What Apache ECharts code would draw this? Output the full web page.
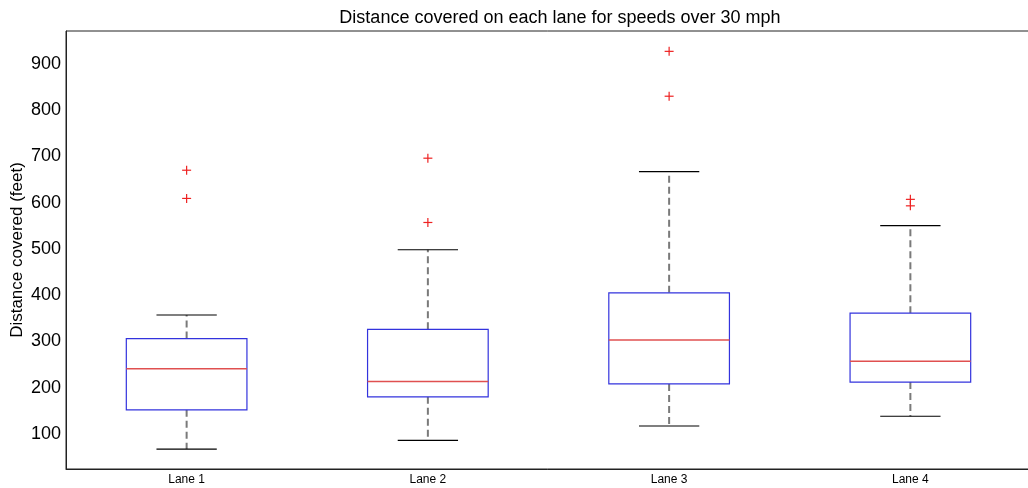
<!DOCTYPE html>
<html>
<head>
<meta charset="utf-8">
<script src="https://cdn.jsdelivr.net/npm/echarts@6/dist/echarts.min.js"></script>
<style>
  html, body { margin: 0; padding: 0; background: #fff; }
  #main { width: 1028px; height: 488px; }
</style>
</head>
<body>
<div id="main"></div>
<script>
// lanes on the x axis
var lanes = ['Lane 1', 'Lane 2', 'Lane 3', 'Lane 4'];
// box stats per lane: [low whisker, Q1, median, Q3, high whisker]
var boxStats = [
    [67, 152, 241, 306, 357],
    [86, 180, 213, 326, 498],
    [117, 208, 303, 405, 667],
    [138, 212, 257, 361, 550]
];
// outliers as [lane index, value]
var outliers = [
    [0, 670], [0, 609],
    [1, 696], [1, 557],
    [2, 927], [2, 830],
    [3, 607], [3, 593]
];
var yTicks = [100, 200, 300, 400, 500, 600, 700, 800, 900];

var chart = echarts.init(document.getElementById('main'));

var boxData = boxStats.map(function (s, i) {
    return [i].concat(s);
});

function renderBox(params, api) {
    var idx = api.value(0);
    var band = api.size([1, 0])[0];
    var half = band * 0.25;
    var cap = band * 0.125;
    var pLow = api.coord([idx, api.value(1)]);
    var pQ1 = api.coord([idx, api.value(2)]);
    var pMed = api.coord([idx, api.value(3)]);
    var pQ3 = api.coord([idx, api.value(4)]);
    var pHigh = api.coord([idx, api.value(5)]);
    var cx = pMed[0];
    var dash = { stroke: '#7a7a7a', lineWidth: 2, lineDash: [7, 4] };
    var capStyle = { stroke: '#000', lineWidth: 1.2 };
    return {
        type: 'group',
        children: [
            { type: 'line', shape: { x1: cx, y1: pQ3[1], x2: cx, y2: pHigh[1] }, style: dash },
            { type: 'line', shape: { x1: cx, y1: pQ1[1], x2: cx, y2: pLow[1] }, style: dash },
            { type: 'line', shape: { x1: cx - cap, y1: pHigh[1], x2: cx + cap, y2: pHigh[1] }, style: capStyle },
            { type: 'line', shape: { x1: cx - cap, y1: pLow[1], x2: cx + cap, y2: pLow[1] }, style: capStyle },
            { type: 'rect', shape: { x: cx - half, y: pQ3[1], width: half * 2, height: pQ1[1] - pQ3[1] },
              style: { fill: '#fff', stroke: '#3333dd', lineWidth: 1.2 } },
            { type: 'line', shape: { x1: cx - half, y1: pMed[1], x2: cx + half, y2: pMed[1] },
              style: { stroke: '#e05050', lineWidth: 1.5 } }
        ]
    };
}

function renderPlus(params, api) {
    var p = api.coord([api.value(0), api.value(1)]);
    var r = 4.5;
    var st = { stroke: '#ee2222', lineWidth: 1.2 };
    return {
        type: 'group',
        children: [
            { type: 'line', shape: { x1: p[0] - r, y1: p[1], x2: p[0] + r, y2: p[1] }, style: st },
            { type: 'line', shape: { x1: p[0], y1: p[1] - r, x2: p[0], y2: p[1] + r }, style: st }
        ]
    };
}

var option = {
    animation: false,
    backgroundColor: '#fff',
    title: {
        text: 'Distance covered on each lane for speeds over 30 mph',
        left: 555,
        top: 4,
        textAlign: 'center',
        textStyle: { fontFamily: 'Liberation Sans', fontSize: 18, fontWeight: 'normal', color: '#000' }
    },
    grid: {
        left: 66, top: 31, width: 965, height: 438,
        outerBoundsMode: 'none',
        show: true, borderColor: '#222', borderWidth: 1
    },
    xAxis: {
        type: 'category',
        data: lanes,
        boundaryGap: true,
        axisLine: { lineStyle: { color: '#222' } },
        axisTick: { show: false },
        axisLabel: { fontFamily: 'Liberation Sans', fontSize: 12, color: '#000', margin: 5 }
    },
    yAxis: [{
        type: 'value',
        min: 24,
        max: 971,
        name: 'Distance covered (feet)',
        nameLocation: 'middle',
        nameRotate: 90,
        nameGap: 40,
        nameMoveOverlap: false,
        nameTextStyle: { fontFamily: 'Liberation Sans', fontSize: 17, color: '#000' },
        splitLine: { show: false },
        axisLine: { show: true, lineStyle: { color: '#222' } },
        axisTick: { inside: true, length: 9, customValues: yTicks, lineStyle: { color: '#222' } },
        axisLabel: { customValues: yTicks, fontFamily: 'Liberation Sans', fontSize: 18, color: '#000', margin: 5 }
    }, {
        type: 'value',
        position: 'right',
        min: 24,
        max: 971,
        splitLine: { show: false },
        axisLine: { show: true, lineStyle: { color: '#222' } },
        axisTick: { inside: true, length: 9, customValues: yTicks, lineStyle: { color: '#222' } },
        axisLabel: { show: false }
    }],
    series: [{
        type: 'custom',
        renderItem: renderBox,
        encode: { x: 0, y: [1, 2, 3, 4, 5] },
        data: boxData
    }, {
        type: 'custom',
        renderItem: renderPlus,
        encode: { x: 0, y: 1 },
        data: outliers
    }]
};
chart.setOption(option);
</script>
</body>
</html>
